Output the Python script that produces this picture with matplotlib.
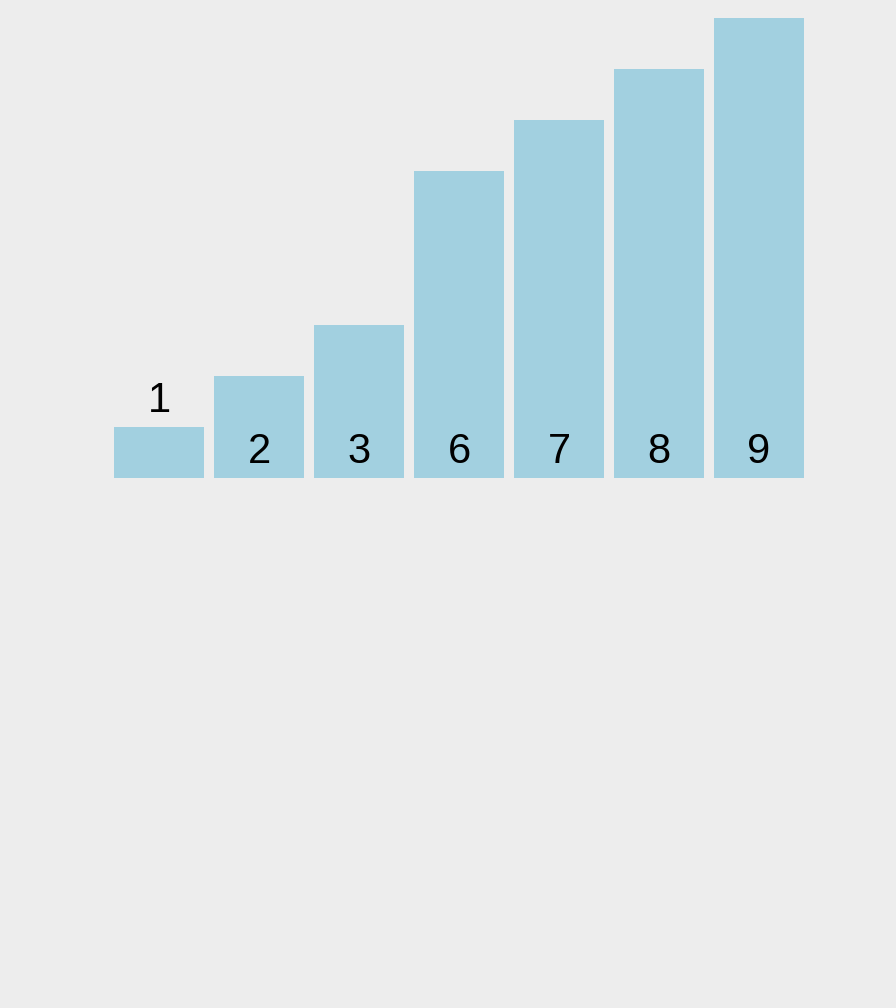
import matplotlib
matplotlib.use('Agg')
import matplotlib.pyplot as plt

# data
categories = ['1', '2', '3', '6', '7', '8', '9']
values = [1, 2, 3, 6, 7, 8, 9]
# labels that sit above their bar instead of inside at the base
above = [True, False, False, False, False, False, False]

plt.rcParams['font.family'] = ['Liberation Sans', 'DejaVu Sans']

W, H = 896, 1008
fig = plt.figure(figsize=(W / 100, H / 100), dpi=100)
fig.patch.set_facecolor('#ededed')

# axes placed in pixel terms: bars span x 114..804, base at y 478, top at 18
ax = fig.add_axes([114 / W, (H - 478) / H, 690 / W, 460 / H])
ax.set_facecolor('#ededed')

x = list(range(len(values)))
ax.bar(x, values, width=0.9, color='#a2d0e0')

for xi, v, lab, up in zip(x, values, categories, above):
    y = v if up else 0
    ax.annotate(lab, (xi, y), xytext=(0, 15), textcoords='offset pixels',
                ha='center', va='baseline', fontsize=30, color='black')

ax.set_xlim(-0.45, len(values) - 0.55)
ax.set_ylim(0, max(values))
ax.axis('off')

plt.savefig('out.png', dpi=100, facecolor=fig.get_facecolor())
plt.close()
